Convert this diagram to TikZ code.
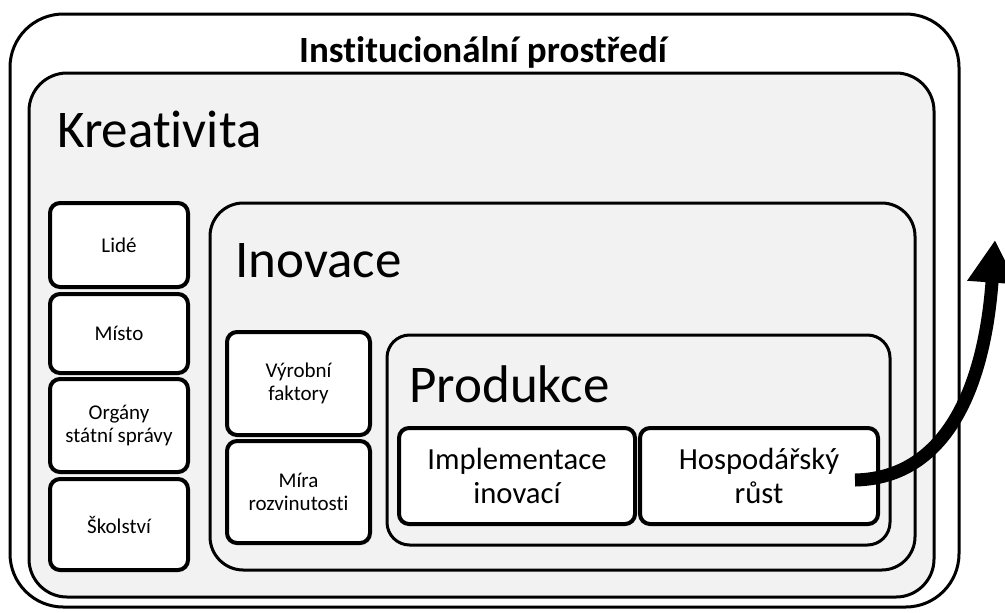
\documentclass[tikz,border=0pt]{standalone}
\usepackage{fontspec}
\setmainfont{Carlito}[Ligatures={NoCommon}]
\usetikzlibrary{arrows.meta}
\definecolor{boxgray}{HTML}{F2F2F2}
\begin{document}
\begin{tikzpicture}[x=0.75pt,y=-0.75pt,
  container/.style={draw=black, line width=2.25pt, fill=boxgray, inner sep=0pt},
  itembox/.style={draw=black, line width=3pt, fill=white, rounded corners=7.5pt,
    align=center, inner sep=0pt, font=\fontsize{15.75}{17.5}\selectfont},
  midbox/.style={itembox, font=\fontsize{23}{26}\selectfont},
  bigtitle/.style={inner sep=0pt, anchor=base west, font=\fontsize{39.75}{44}\selectfont},
  flowarrow/.style={line width=9.75pt, -{Triangle[length=32pt,width=35pt]}}]
\useasboundingbox (0,0) rectangle (1005,612);
% containers
\node[container, fill=white, rounded corners=40pt, minimum width=711.75pt, minimum height=444.75pt] (inst) at (484.5,310.5) {};
\node[container, rounded corners=28.5pt, minimum width=678.75pt, minimum height=393pt] (kreat) at (481.5,335) {};
\node[container, rounded corners=25pt, minimum width=528.75pt, minimum height=275.25pt] (inov) at (562.5,386.5) {};
\node[container, rounded corners=17pt, minimum width=377.25pt, minimum height=157.5pt] (prod) at (638.5,440) {};
% titles
\node[inner sep=0pt, anchor=base, font=\bfseries\fontsize{27.75}{30}\selectfont] (insttitle) at (483,62) {Institucionální prostředí};
\node[bigtitle] (kreattitle) at (57,147) {Kreativita};
\node[bigtitle] (inovtitle) at (235,277) {Inovace};
\node[bigtitle] (prodtitle) at (409,402) {Produkce};
% left column
\node[itembox, minimum width=103.5pt, minimum height=63pt] (lide) at (119,245) {Lidé};
\node[itembox, minimum width=103.5pt, minimum height=59.25pt] (misto) at (119,333.5) {Místo};
\node[itembox, minimum width=103.5pt, minimum height=69.75pt] (organy) at (119,425.5) {Orgány\\státní správy};
\node[itembox, minimum width=103.5pt, minimum height=68.25pt] (skolstvi) at (119,524.5) {Školství};
% inovace column
\node[itembox, minimum width=107.25pt, minimum height=77.25pt] (vyrobni) at (298.5,383.5) {Výrobní\\faktory};
\node[itembox, minimum width=107.25pt, minimum height=76.5pt] (mira) at (298.5,492) {Míra\\rozvinutosti};
% produkce boxes
\node[midbox, minimum width=177pt, minimum height=72pt] (impl) at (517,476) {Implementace\\inovací};
\node[midbox, minimum width=178.5pt, minimum height=72pt] (hosp) at (759,476) {Hospodářský\\růst};
% arrow
\coordinate (aend) at (995,240);
\draw[flowarrow] ([xshift=-18.75pt,yshift=-3pt]hosp.east) .. controls (950,478) and (985,380) .. (aend);
\end{tikzpicture}
\end{document}
